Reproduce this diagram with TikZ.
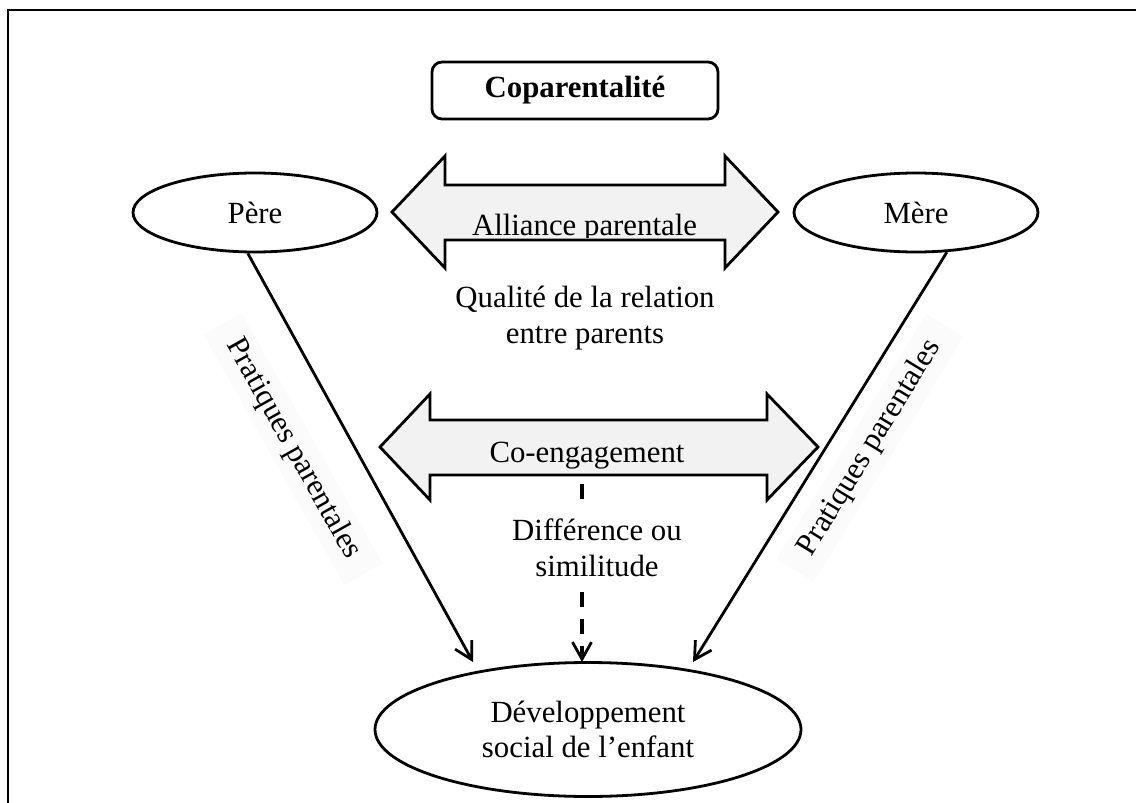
\documentclass[tikz,border=0pt]{standalone}
\usepackage{fontspec}
\setmainfont{Liberation Serif}
\usetikzlibrary{arrows.meta,shapes.geometric,calc}
\definecolor{arrowfill}{HTML}{F2F2F2}
\definecolor{labelbg}{HTML}{FBFBFB}
\begin{document}
\begin{tikzpicture}[x=0.5pt,y=-0.5pt,
  txt/.style={font=\fontsize{15.4}{17.7}\selectfont, align=center},
  ell/.style={ellipse, draw, line width=1.4pt, inner sep=0pt, txt},
  blockarrow/.style={draw, line width=1.4pt, fill=arrowfill, line join=miter},
  arr/.style={line width=1.4pt, -{Straight Barb[length=8.5pt,width=9.5pt,line width=1.4pt]}},
  dasharr/.style={line width=1.8pt, dash pattern=on 7.5pt off 6pt, -{Straight Barb[length=8.5pt,width=9.5pt,line width=1.4pt]}},
  sidelabel/.style={txt, fill=labelbg, inner xsep=10pt, inner ysep=4pt},
  titlebox/.style={draw, rounded corners=5pt, line width=1.4pt, font=\fontsize{15.4}{17.7}\selectfont\bfseries}
]
\useasboundingbox (0,0) rectangle (1136,803);
% frame (cropped)
\draw[line width=1.2pt] (8,803) -- (8,10) -- (1136,10);

% title
\node[titlebox, minimum width=143pt, minimum height=28.5pt] (copar) at (575,90.5) {Coparentalité};

% parents
\node[ell, minimum width=122pt, minimum height=39.5pt] (pere) at (255,212.5) {Père};
\node[ell, minimum width=122pt, minimum height=39.5pt] (mere) at (916,212.5) {Mère};

% child
\node[ell, minimum width=213pt, minimum height=67pt] (enf) at (588,729.5) {Développement\\social de l’enfant};

% block arrow: alliance parentale
\draw[blockarrow] (392,212) -- (445,156) -- (445,185) -- (725,185) -- (725,156) -- (778,212)
  -- (725,268) -- (725,240) -- (445,240) -- (445,268) -- cycle;
\begin{scope}
  \clip (445,186) rectangle (725,237.5);
  \node[txt, anchor=base, inner sep=0pt] (alliance) at (584.5,235) {Alliance parentale};
\end{scope}

\node[txt] (qual) at (585,318) {Qualité de la relation\\entre parents};

% block arrow: co-engagement
\draw[blockarrow] (380,447) -- (430,394) -- (430,420) -- (767,420) -- (767,394) -- (818,447)
  -- (767,500) -- (767,475) -- (430,475) -- (430,500) -- cycle;
\begin{scope}
  \clip (430,421) rectangle (767,472);
  \node[txt, anchor=base, inner sep=0pt] (coeng) at (587,462) {Co-engagement};
\end{scope}

% side labels
\node[sidelabel, rotate=-60.7] (ppL) at (293,449) {Pratiques parentales};
\node[sidelabel, rotate=58.6] (ppR) at (870,448) {Pratiques parentales};

% connectors
\coordinate (tipL) at (473,662);
\coordinate (tipR) at (693,662);
\coordinate (tipM) at (582,662);
\coordinate (dstart) at (582,484);
\draw[arr] (pere.260) -- (tipL);
\draw[arr] (mere.308) -- (tipR);
\draw[dasharr] (dstart) -- (tipM);
\node[txt, fill=white, inner sep=4pt] (diff) at (597,548) {Différence ou\\similitude};
\end{tikzpicture}
\end{document}
